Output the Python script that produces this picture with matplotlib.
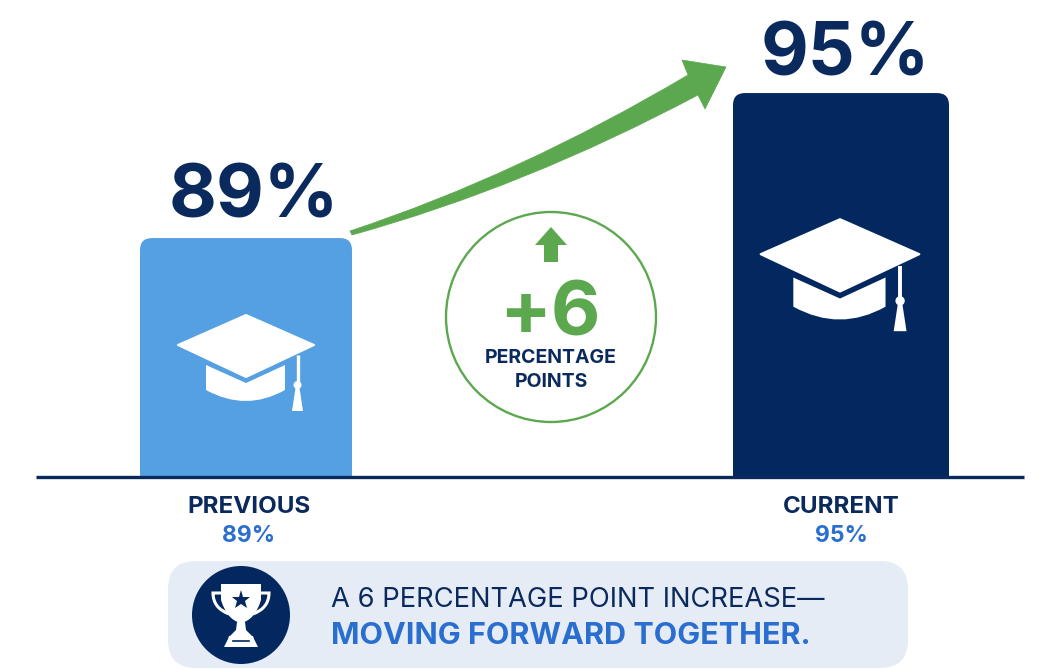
import matplotlib
matplotlib.use('Agg')
import matplotlib.pyplot as plt
from matplotlib.patches import Circle, FancyBboxPatch, PathPatch, Polygon
from matplotlib.path import Path

plt.rcParams['font.family'] = ['Inter', 'Lato', 'DejaVu Sans']

categories = ['PREVIOUS', 'CURRENT']
values = [89, 95]
increase = '+6'
circle_lines = ['PERCENTAGE', 'POINTS']
banner_top = 'A 6 PERCENTAGE POINT INCREASE\u2014'
banner_bottom = 'MOVING FORWARD TOGETHER.'

NAVY = '#0A2A5E'
BAR_NAVY = '#032860'
BLUE = '#559FE3'
TEXT_BLUE = '#2A6FCF'
GREEN = '#5CA84F'
PANEL = '#E6ECF6'

fig = plt.figure(figsize=(10.49, 6.69), dpi=100)

# axes for the bars: the value axis does not start at zero
bar_ax = fig.add_axes([0, 0, 1, 1])
bar_ax.set_xlim(-246 / 595, 803 / 595)
bar_ax.set_ylim(71.17, 98.85)
bar_ax.axis('off')

# second axes in pixels, for the icons and the text
ax = fig.add_axes([0, 0, 1, 1])
ax.set_xlim(0, 1049)
ax.set_ylim(669, 0)
ax.axis('off')
ax.patch.set_alpha(0)


def rounded_top(bar, radius=12):
    # round the top corners only, the rest of the clip goes below the baseline
    box = bar.get_window_extent()
    clip = FancyBboxPatch((box.x0 + radius, box.y0 - 50), box.width - 2 * radius, box.height + 50 - radius,
                          boxstyle=f'round,pad={radius},rounding_size={radius}', transform=None)
    bar.set_clip_path(clip)


def grad_cap(cx, top, s):
    board = [(-68, 31), (0, 1), (68, 31), (0, 63)]
    ax.add_patch(Polygon([(cx + x * s, top + y * s) for x, y in board], closed=True, fc='white', ec='white', lw=1.5, joinstyle='round'))
    verts = [(-40, 51), (0, 69), (39, 51), (39, 76), (0, 98), (-40, 76), (-40, 51)]
    codes = [Path.MOVETO, Path.LINETO, Path.LINETO, Path.LINETO, Path.CURVE3, Path.CURVE3, Path.CLOSEPOLY]
    ax.add_patch(PathPatch(Path([(cx + x * s, top + y * s) for x, y in verts], codes), fc='white', ec='none'))
    ax.plot([cx + 51.5 * s] * 2, [top + 41 * s, top + 72 * s], color='white', lw=2.4 * s, solid_capstyle='butt')
    ax.add_patch(Circle((cx + 51.5 * s, top + 71 * s), 4 * s, fc='white', ec='none'))
    tassel = [(49.5, 74), (53.5, 74), (57, 97), (46, 97)]
    ax.add_patch(Polygon([(cx + x * s, top + y * s) for x, y in tassel], closed=True, fc='white', ec='none'))


# bars
bar_bottom = 79.15
bars = bar_ax.bar([0, 1], [v - bar_bottom for v in values], bottom=bar_bottom,
                  width=[212 / 595, 216 / 595], color=[BLUE, BAR_NAVY], zorder=2)
fig.canvas.draw()
for b in bars:
    rounded_top(b)

grad_cap(246, 314, 1)
grad_cap(840, 218, 1.167)

# baseline
ax.plot([36, 1024], [477, 477], color=NAVY, lw=2.4, solid_capstyle='butt')

# value labels above the bars and under the baseline
ax.text(254, 218, f'{values[0]}%', fontsize=53, fontweight='bold', color=NAVY, ha='center', va='baseline')
ax.text(845, 75, f'{values[1]}%', fontsize=53, fontweight='bold', color=NAVY, ha='center', va='baseline')
for name, v, x in zip(categories, values, [249, 841]):
    ax.text(x, 507, name, fontsize=17.4, fontweight='bold', color=NAVY, ha='center', va='center')
    ax.text(x, 536, f'{v}%', fontsize=16.5, fontweight='bold', color=TEXT_BLUE, ha='center', va='center')

# big green arrow
arrow_verts = [(350, 231), (519, 175), (688, 75), (682, 60), (726, 67), (705, 109), (698, 95), (525, 187), (352, 235), (350, 231)]
arrow_codes = [Path.MOVETO, Path.CURVE3, Path.CURVE3, Path.LINETO, Path.LINETO, Path.LINETO, Path.LINETO,
               Path.CURVE3, Path.CURVE3, Path.CLOSEPOLY]
ax.add_patch(PathPatch(Path(arrow_verts, arrow_codes), fc=GREEN, ec=GREEN, lw=0.5, joinstyle='round'))

# circle in the middle
ax.add_patch(Circle((551, 317), 105, fc='white', ec=GREEN, lw=1.7))
ax.add_patch(Polygon([(551, 227), (567, 245), (558, 245), (558, 262), (544, 262), (544, 245), (535, 245)],
                     closed=True, fc=GREEN, ec='none'))
ax.text(550, 335, increase, fontsize=55, fontweight='bold', color=GREEN, ha='center', va='baseline')
ax.text(551, 358, circle_lines[0], fontsize=14, fontweight='bold', color=NAVY, ha='center', va='center')
ax.text(551, 382, circle_lines[1], fontsize=14, fontweight='bold', color=NAVY, ha='center', va='center')

# banner
ax.add_patch(FancyBboxPatch((196, 589), 684, 51, boxstyle='round,pad=28,rounding_size=28', fc=PANEL, ec='none'))
ax.add_patch(Circle((241, 615), 49, fc=BAR_NAVY, ec='none'))

# trophy
handle_codes = [Path.MOVETO, Path.LINETO, Path.CURVE3, Path.CURVE3]
ax.add_patch(PathPatch(Path([(222, 593), (213, 593), (213, 608), (229, 614)], handle_codes),
                       fc='none', ec='white', lw=2.2))
ax.add_patch(PathPatch(Path([(260, 593), (269, 593), (269, 608), (253, 614)], handle_codes),
                       fc='none', ec='white', lw=2.2))
cup_verts = [(221, 584), (261, 584), (261, 600), (255, 620), (241, 623), (227, 620), (221, 600), (221, 584)]
cup_codes = [Path.MOVETO, Path.LINETO, Path.LINETO, Path.CURVE3, Path.LINETO, Path.CURVE3, Path.LINETO, Path.CLOSEPOLY]
ax.add_patch(PathPatch(Path(cup_verts, cup_codes), fc='white', ec='none'))
ax.add_patch(Polygon([(237, 622), (245, 622), (246, 630), (252, 636), (230, 636), (236, 630)], closed=True, fc='white', ec='none'))
ax.add_patch(Polygon([(229, 636), (253, 636), (254, 639), (258, 647), (224, 647), (228, 639)], closed=True, fc='white', ec='none'))
ax.plot([233, 249], [641, 641], color=BAR_NAVY, lw=1.2)
ax.plot([241], [600], marker='*', ms=14, color=BAR_NAVY, mew=0)

ax.text(331, 600, banner_top, fontsize=19.7, color=NAVY, ha='left', va='center')
ax.text(331, 636, banner_bottom, fontsize=22, fontweight='bold', color=TEXT_BLUE, ha='left', va='center')

fig.savefig('out.png', dpi=100)
